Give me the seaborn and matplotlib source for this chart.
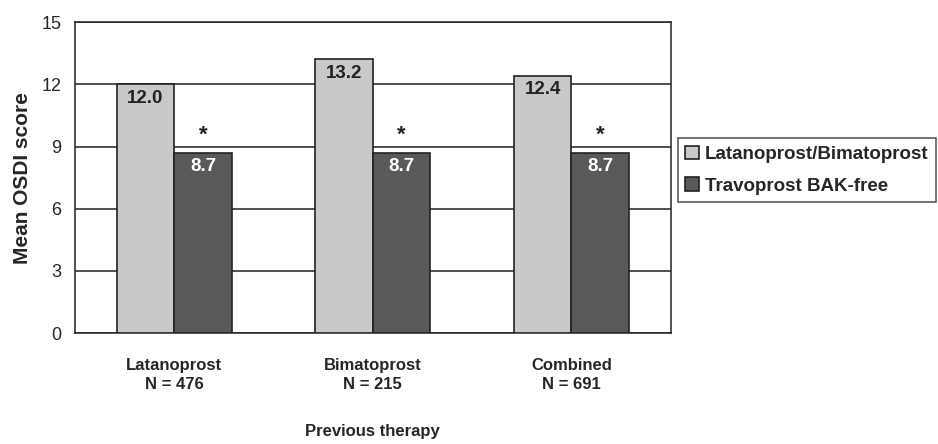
import numpy as np
import matplotlib
matplotlib.use("Agg")
import matplotlib.pyplot as plt
import pandas as pd
import seaborn as sns

therapies = ["Latanoprost\nN = 476", "Bimatoprost\nN = 215", "Combined\nN = 691"]
groups = ["Latanoprost/Bimatoprost", "Travoprost BAK-free"]
prev_scores = [12.0, 13.2, 12.4]
trav_scores = [8.7, 8.7, 8.7]
yticks = [0, 3, 6, 9, 12, 15]

df = pd.DataFrame({
    "therapy": therapies * 2,
    "group": [groups[0]] * 3 + [groups[1]] * 3,
    "score": prev_scores + trav_scores,
})

sns.set_style("white")
plt.rcParams["font.family"] = ["Liberation Sans", "DejaVu Sans"]

fig = plt.figure(figsize=(9.38, 4.44), dpi=100)
ax = fig.add_axes([0.080, 0.25, 0.635, 0.70])

palette = {groups[0]: "#c8c9cb", groups[1]: "#58595b"}
sns.barplot(data=df, x="therapy", y="score", hue="group", palette=palette,
            width=0.58, edgecolor="#222222", linewidth=1.2, saturation=1,
            ax=ax, zorder=3)

ax.set_ylim(0, 15)
ax.set_xlim(-0.5, 2.5)
ax.set_yticks(yticks)
ax.set_yticklabels([str(t) for t in yticks], fontsize=13)
ax.yaxis.grid(True, color="#222222", linewidth=1.1, zorder=0)
ax.set_axisbelow(True)
for s in ax.spines.values():
    s.set_color("#222222")
    s.set_linewidth(1.1)

# ticks at category boundaries
ax.set_xticks([-0.5, 0.5, 1.5, 2.5], minor=False)
ax.set_xticklabels([])
ax.tick_params(axis="x", which="major", direction="out", length=6, color="#222222", width=1.1)
ax.tick_params(axis="y", which="major", direction="out", length=7, color="#222222", width=1.1, pad=3)
ax.set_xticks([0, 1, 2], minor=True)
ax.set_xticklabels(therapies, minor=True, fontsize=12, fontweight="bold", linespacing=1.35)
ax.tick_params(axis="x", which="minor", length=0, pad=18)

ax.set_xlabel("Previous therapy", fontsize=12, fontweight="bold")
ax.xaxis.set_label_coords(0.5, -0.293)
ax.set_ylabel("Mean OSDI score", fontsize=15, fontweight="bold")
ax.yaxis.set_label_coords(-0.072, 0.5)

# value labels
for c, cont in enumerate(ax.containers):
    for bar in cont:
        h = bar.get_height()
        xc = bar.get_x() + bar.get_width() / 2
        ax.text(xc, h - 0.25, f"{h:.1f}", ha="center", va="top", fontsize=13.5,
                fontweight="bold", color="#222222" if c == 0 else "white", zorder=5)
        if c == 1:
            ax.text(xc, h + 0.35, "*", ha="center", va="bottom", fontsize=16,
                    fontweight="bold", color="#222222", zorder=5)

leg = ax.legend(loc="center left", bbox_to_anchor=(1.012, 0.524), frameon=True,
                fancybox=False, edgecolor="#222222",
                prop={"weight": "bold", "size": 13.5},
                handlelength=0.75, handleheight=0.75, handletextpad=0.3,
                borderpad=0.4, labelspacing=0.75, borderaxespad=0)
leg.get_frame().set_linewidth(1.1)

fig.savefig("out.png", dpi=100)
